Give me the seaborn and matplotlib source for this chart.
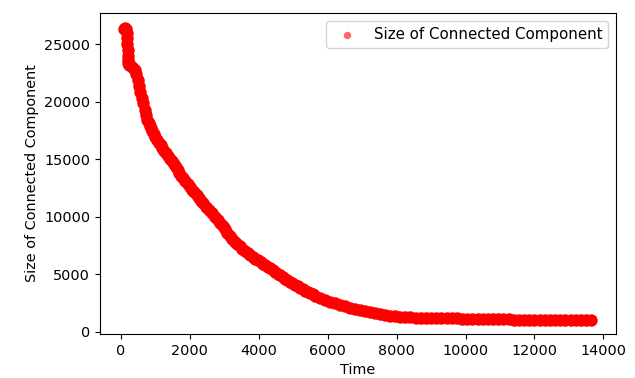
import matplotlib
matplotlib.use("Agg")
import matplotlib.pyplot as plt
import seaborn as sns
import pandas as pd

time = [80, 110, 140, 160, 175, 185, 190, 195, 200, 210, 230, 280, 340, 400, 440,
        480, 520, 560, 600, 650, 700, 765, 830, 900, 1000, 1100, 1200, 1320, 1420,
        1530, 1640, 1750, 1870, 2000, 2130, 2260, 2390, 2560, 2730, 2880, 3020, 3160,
        3300, 3450, 3600, 3750, 3900, 4050, 4190, 4330, 4470, 4620, 4760, 4900, 5050,
        5200, 5340, 5490, 5630, 5780, 5920, 6070, 6210, 6360, 6500, 6650, 6790, 6940,
        7080, 7230, 7370, 7520, 7660, 7810, 7950, 8100, 8250, 8390, 8550, 8700, 8850,
        9000, 9150, 9300, 9450, 9600, 9750, 9900, 10050, 10200, 10350, 10500, 10650,
        10800, 10950, 11100, 11250, 11400, 11550, 11700, 11850, 12000, 12150, 12300,
        12450, 12600, 12750, 12900, 13050, 13200, 13350, 13500, 13650]

size = [26350, 26400, 26300, 26000, 25500, 25000, 24500, 24000, 23600, 23350, 23200,
        23100, 22950, 22750, 22400, 21900, 21350, 20850, 20350, 19850, 19250, 18450,
        17900, 17450, 16960, 16450, 16000, 15510, 15050, 14550, 14050, 13560, 13100,
        12610, 12110, 11630, 11170, 10580, 10000, 9450, 8900, 8320, 7820, 7420, 7040,
        6670, 6350, 6050, 5780, 5500, 5200, 4900, 4620, 4350, 4080, 3830, 3580, 3340,
        3140, 2950, 2780, 2610, 2470, 2340, 2210, 2090, 1980, 1880, 1780, 1690, 1610,
        1530, 1460, 1390, 1330, 1300, 1280, 1250, 1180, 1170, 1165, 1160, 1160, 1155,
        1150, 1150, 1150, 1145, 1080, 1075, 1075, 1070, 1070, 1070, 1065, 1065, 1065,
        1060, 1060, 1060, 1060, 1055, 1055, 1055, 1055, 1050, 1050, 1050, 1050, 1050,
        1045, 1045, 1045]

# extra readings along the steep middle part of the curve
time_mid = [730, 800, 865, 950, 1050, 1150, 1260, 1370, 1475, 1585, 1695, 1810, 1935,
            2065, 2195, 2325, 2475, 2645, 2805, 2950, 3090, 3230, 3375, 3525, 3675,
            3825, 3975, 4120, 4260, 4400, 4545, 4690, 4830, 4975, 5125, 5270, 5415,
            5560]
size_mid = [18850, 18150, 17680, 17200, 16700, 16220, 15750, 15280, 14800, 14300,
            13800, 13330, 12850, 12360, 11870, 11400, 10870, 10290, 9720, 9170, 8600,
            8060, 7620, 7230, 6850, 6510, 6200, 5910, 5640, 5350, 5050, 4760, 4480,
            4210, 3950, 3700, 3460, 3240]

label = "Size of Connected Component"
x_label = "Time"
y_ticks = [0, 5000, 10000, 15000, 20000, 25000]
x_ticks = [0, 2000, 4000, 6000, 8000, 10000, 12000, 14000]

plt.rcParams["font.size"] = 10.4
df = pd.DataFrame({"Time": time + time_mid, "Size": size + size_mid})

fig = plt.figure(figsize=(6.35, 3.78), dpi=100)
ax = fig.add_axes([100 / 635, 1 - 334 / 378, 515.7 / 635, 321 / 378])
sns.scatterplot(data=df, x="Time", y="Size", color="red", s=80, linewidth=0,
                alpha=1.0, label=label, ax=ax)
ax.set_xlim(-610, 14360)
ax.set_ylim(-200, 27710)
ax.set_xticks(x_ticks)
ax.set_yticks(y_ticks)
ax.set_xlabel(x_label)
ax.set_ylabel(label)
leg = ax.legend(loc="upper right", fontsize=10.8, markerscale=0.6)
for h in leg.legend_handles:
    h.set_alpha(0.6)
fig.savefig("out.png", dpi=100)
